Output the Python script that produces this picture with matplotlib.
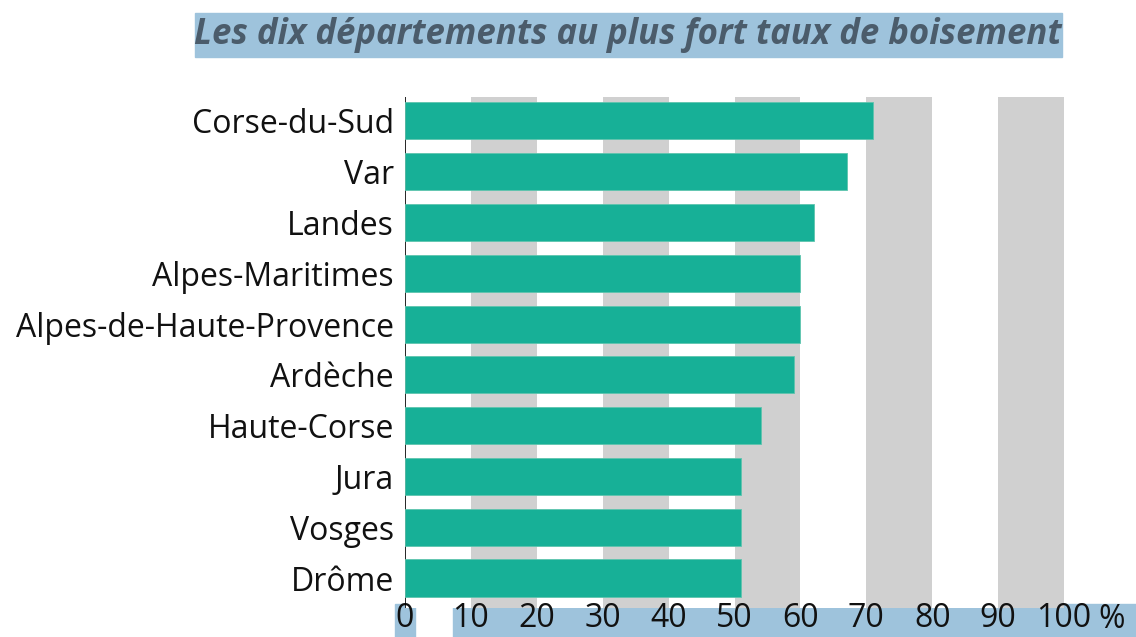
import matplotlib
matplotlib.use('Agg')
import matplotlib.pyplot as plt
from matplotlib.patches import Rectangle

departements = ['Corse-du-Sud', 'Var', 'Landes', 'Alpes-Maritimes',
                'Alpes-de-Haute-Provence', 'Ardèche', 'Haute-Corse',
                'Jura', 'Vosges', 'Drôme']
taux = [71, 67, 62, 60, 60, 59, 54, 51, 51, 51]
ticks = [0, 10, 20, 30, 40, 50, 60, 70, 80, 90, 100]
tick_labels = ['0', '10', '20', '30', '40', '50', '60', '70', '80', '90', '100']
bandes = [(10, 20), (30, 40), (50, 60), (70, 80), (90, 100)]
titre = 'Les dix départements au plus fort taux de boisement'

W, H = 1136, 637


def main():
    plt.rcParams['font.family'] = ['Open Sans', 'DejaVu Sans']
    fig = plt.figure(figsize=(W / 100, H / 100), dpi=100)
    ax = fig.add_axes([405 / W, 1 - 608 / H, (1064 - 405) / W, (608 - 97) / H])

    for a, b in bandes:
        ax.axvspan(a, b, color='#d0d0d0', lw=0, zorder=0)

    y = list(range(len(departements)))[::-1]
    ax.barh(y, taux, height=0.73, color='#17b097', edgecolor='#5ec4ae',
            linewidth=0.6, zorder=3)
    ax.axvline(0, color='black', lw=1.2, zorder=2)

    ax.set_xlim(0, 100)
    ax.set_ylim(-0.59, 9.47)
    ax.set_yticks(y)
    ax.set_yticklabels(departements, fontsize=23, color='#111111')
    ax.set_xticks(ticks)
    ax.set_xticklabels(tick_labels, fontsize=23, color='#111111')
    ax.tick_params(axis='both', length=0)
    ax.tick_params(axis='y', pad=8)
    ax.tick_params(axis='x', pad=-4)
    for s in ax.spines.values():
        s.set_visible(False)

    # fonds bleus derrière les graduations
    fig.patches.append(Rectangle((395 / W, 0), 20 / W, 33 / H,
                                 transform=fig.transFigure, color='#9ec3dc',
                                 zorder=-1))
    fig.patches.append(Rectangle((453 / W, 0), (W - 453) / W, 33 / H,
                                 transform=fig.transFigure, color='#9ec3dc',
                                 zorder=-1))
    fig.text(1098 / W, 1 - 603 / H, '%', fontsize=23, color='#111111',
             va='top', ha='left')

    # titre
    fig.patches.append(Rectangle((195 / W, 1 - 57 / H), (1062 - 195) / W, 44 / H,
                                 transform=fig.transFigure, color='#9ec3dc',
                                 zorder=-1))
    fig.text(628 / W, 1 - 35 / H, titre, fontsize=25, style='italic',
             weight='bold', color='#4b5c6b', ha='center', va='center')

    fig.savefig('out.png', dpi=100)


if __name__ == '__main__':
    main()
